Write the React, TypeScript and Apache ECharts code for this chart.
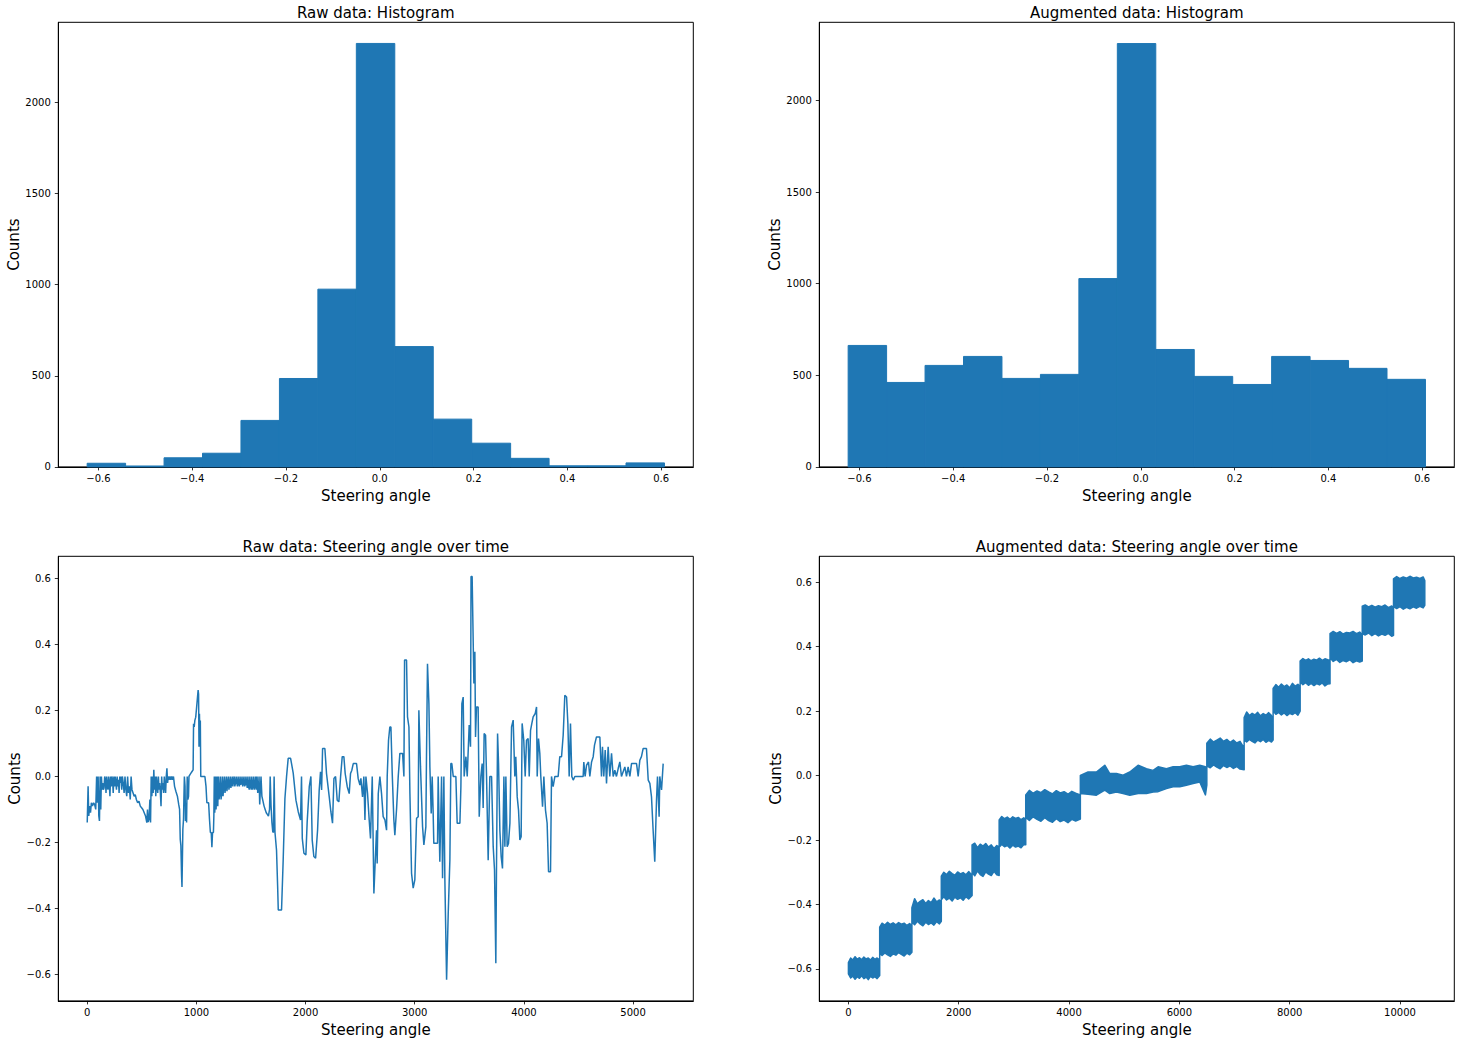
import React, { useEffect, useRef } from 'react';
import * as echarts from 'echarts';

const BLUE = '#1f77b4';
const FONT = 'DejaVu Sans';

// ---- Histogram data ----
const binEdges = [-0.624, -0.542, -0.46, -0.378, -0.296, -0.214, -0.132, -0.05, 0.032, 0.114, 0.196, 0.279, 0.361, 0.443, 0.525, 0.607];
const rawCounts = [20, 5, 50, 75, 255, 485, 975, 2323, 660, 262, 130, 47, 6, 6, 22];
const augCounts = [663, 461, 554, 603, 483, 505, 1028, 2311, 641, 494, 450, 603, 581, 538, 478];

// ---- Tick labels ----
const angleTicks = [-0.6, -0.4, -0.2, 0, 0.2, 0.4, 0.6];
const countTicks = [0, 500, 1000, 1500, 2000];
const rawTimeTicks = [0, 1000, 2000, 3000, 4000, 5000];
const augTimeTicks = [0, 2000, 4000, 6000, 8000, 10000];

// ---- Raw steering angle over time: [sample index, angle] ----
const rawPoints = [
  [0,-0.14],[8,-0.03],[14,-0.12],[22,-0.09],[30,-0.11],[38,-0.08],[48,-0.09],[58,-0.08],[68,-0.085],[78,-0.1],[86,0],[92,-0.08],[100,0],[106,-0.12],[112,-0.135],[118,0],[124,-0.1],[130,0],[136,-0.04],[142,-0.02],[148,-0.04],[154,-0.035],[160,0],[166,-0.01],[172,-0.05],[178,0],[184,-0.03],[190,-0.04],[196,0],[202,-0.02],[208,-0.06],[214,0],[220,-0.03],[226,0],[232,-0.01],[238,-0.05],[244,0],[250,-0.03],[256,0],[262,-0.02],[268,-0.04],[274,0],[280,-0.03],[286,-0.01],[292,-0.05],[298,0],[304,-0.02],[310,0],[316,-0.04],[322,0],[330,-0.02],[338,-0.05],[346,0],[354,-0.04],[362,-0.06],[370,0],[378,-0.05],[386,-0.03],[394,-0.07],[402,0],[410,-0.04],[420,-0.05],[430,-0.06],[440,-0.055],[450,-0.07],[462,-0.08],[474,-0.075],[486,-0.09],[498,-0.095],[510,-0.1],[522,-0.11],[534,-0.12],[546,-0.14],[552,-0.1],[558,-0.138],[566,-0.13],[574,-0.07],[580,-0.14],[586,0],[592,-0.06],[598,0],[604,-0.05],[610,0.02],[616,-0.04],[622,0],[628,-0.06],[634,0],[640,-0.03],[646,-0.05],[652,0],[658,-0.04],[664,-0.02],[670,-0.05],[676,-0.09],[682,0],[688,-0.04],[694,-0.02],[700,-0.05],[706,0],[712,-0.03],[718,-0.05],[724,0],[730,0.025],[736,-0.02],[742,0],[750,-0.01],[758,0],[766,-0.01],[774,0],[782,-0.01],[790,0],[800,-0.03],[812,-0.045],[826,-0.06],[838,-0.085],[846,-0.1],[852,-0.19],[858,-0.21],[864,-0.3],[868,-0.335],[872,-0.25],[876,-0.16],[882,-0.13],[886,-0.06],[890,0],[896,-0.03],[900,-0.135],[906,-0.08],[910,-0.14],[916,0],[922,-0.07],[928,-0.06],[932,0],[940,0.005],[950,0.01],[960,0.015],[970,0.02],[974,0.16],[980,0.15],[986,0.17],[994,0.18],[1002,0.21],[1010,0.24],[1016,0.262],[1020,0.25],[1024,0.09],[1028,0.19],[1032,0.12],[1036,0.17],[1040,0],[1078,0],[1088,-0.03],[1096,-0.08],[1112,-0.08],[1120,-0.13],[1128,-0.17],[1136,-0.17],[1142,-0.215],[1148,-0.17],[1156,-0.17],[1160,-0.12],[1164,0],[1168,-0.11],[1172,-0.08],[1176,0],[1180,-0.1],[1186,-0.06],[1190,0],[1196,-0.09],[1202,0],[1208,-0.07],[1214,-0.05],[1220,0],[1226,-0.07],[1232,-0.05],[1238,0],[1244,-0.06],[1250,-0.03],[1256,0],[1262,-0.05],[1268,-0.03],[1274,0],[1280,-0.045],[1286,-0.02],[1292,0],[1298,-0.04],[1304,-0.025],[1310,0],[1316,-0.035],[1322,-0.02],[1328,0],[1334,-0.03],[1340,-0.01],[1346,0],[1352,-0.03],[1358,-0.02],[1364,0],[1370,-0.02],[1376,-0.03],[1382,0],[1388,-0.02],[1394,-0.03],[1400,0],[1406,-0.025],[1412,-0.02],[1418,0],[1424,-0.03],[1430,-0.02],[1436,0],[1442,-0.03],[1448,-0.025],[1454,0],[1460,-0.02],[1466,-0.035],[1472,0],[1478,-0.03],[1484,-0.04],[1490,0],[1496,-0.03],[1502,-0.04],[1508,0],[1514,-0.04],[1520,-0.03],[1526,0],[1532,-0.04],[1538,-0.03],[1544,0],[1550,-0.04],[1556,0],[1562,-0.05],[1568,-0.04],[1574,0],[1580,-0.085],[1586,-0.04],[1592,0],[1600,-0.06],[1610,-0.075],[1620,-0.09],[1630,-0.1],[1640,-0.11],[1650,-0.115],[1660,-0.12],[1670,-0.1],[1676,0],[1684,-0.09],[1692,-0.14],[1700,-0.168],[1706,-0.17],[1712,0],[1720,-0.17],[1734,-0.223],[1744,-0.33],[1750,-0.405],[1780,-0.405],
  [1795,-0.254],[1811,-0.067],[1826,0],[1841,0.055],[1863,0.055],[1887,0.01],[1912,-0.072],[1933,-0.107],[1954,-0.132],[1963,0],[1970,-0.188],[1985,-0.233],[2003,-0.238],[2015,-0.137],[2034,-0.031],[2049,0],[2061,-0.193],[2076,-0.243],[2092,-0.248],[2110,-0.163],[2125,-0.041],[2137,0.014],[2147,-0.041],[2156,0.085],[2177,0.085],[2192,0.009],[2217,-0.062],[2232,-0.107],[2247,-0.142],[2260,-0.006],[2275,0],[2290,-0.072],[2305,-0.077],[2321,0],[2336,0.06],[2351,0.06],[2363,0.009],[2382,-0.031],[2400,-0.052],[2412,0.009],[2424,0.019],[2437,0.039],[2467,0.039],[2482,-0.006],[2498,-0.026],[2507,-0.006],[2522,-0.062],[2534,0],[2544,-0.132],[2553,0],[2568,-0.052],[2583,-0.132],[2595,-0.188],[2611,0],[2626,-0.355],[2638,-0.259],[2650,-0.163],[2656,-0.264],[2666,-0.052],[2681,0],[2696,-0.052],[2711,-0.122],[2727,-0.132],[2742,-0.163],[2748,0],[2760,0.11],[2772,0.15],[2782,0.15],[2794,0.009],[2809,-0.132],[2818,-0.178],[2834,-0.097],[2849,0],[2864,0.07],[2889,0.07],[2901,0],[2907,0.353],[2925,0.353],[2934,0.181],[2947,0.15],[2956,-0.052],[2971,-0.294],[2986,-0.339],[3001,-0.314],[3017,-0.127],[3032,-0.122],[3038,0.201],[3053,0.029],[3072,-0.153],[3084,-0.208],[3102,-0.153],[3108,0.065],[3117,0.342],[3130,0.221],[3139,0.029],[3151,-0.112],[3160,0],[3169,-0.112],[3175,-0.203],[3209,-0.203],[3215,0],[3230,-0.259],[3246,0],[3255,-0.309],[3267,0],[3276,-0.309],[3292,-0.617],[3307,-0.415],[3322,-0.254],[3331,0.039],[3340,0.039],[3353,0],[3377,0],[3389,-0.142],[3414,-0.142],[3423,-0.031],[3432,0.221],[3444,0.241],[3453,0],[3469,0.06],[3481,0],[3499,0.156],[3511,0.09],[3516,0.607],[3526,0.607],[3542,0.282],[3551,0.378],[3557,0.12],[3566,0.211],[3581,0.211],[3591,-0.122],[3606,0],[3618,0.039],[3627,-0.096],[3636,0.13],[3649,0.125],[3658,0],[3673,-0.254],[3688,0],[3704,0],[3719,-0.213],[3731,-0.284],[3743,-0.567],[3749,-0.284],[3759,0.13],[3768,0.039],[3780,-0.163],[3792,-0.243],[3804,-0.279],[3817,0],[3826,-0.213],[3835,0],[3847,-0.213],[3859,-0.203],[3872,-0.142],[3887,0.15],[3902,0.171],[3917,0],[3926,0.06],[3939,-0.062],[3951,-0.102],[3963,-0.193],[3975,-0.183],[3984,0.161],[3999,0.11],[4012,0],[4024,0.11],[4039,0.115],[4049,0],[4061,0.14],[4073,0.161],[4085,0.181],[4104,0.191],[4116,0.211],[4122,0],[4134,0.115],[4146,0.07],[4155,0],[4171,-0.092],[4183,0],[4198,-0.102],[4213,-0.142],[4226,-0.289],[4244,-0.289],[4253,0],[4268,-0.031],[4284,0],[4314,0],[4329,0.06],[4345,0.06],[4360,0.125],[4375,0.246],[4391,0.241],[4403,0.161],[4415,0],[4427,0.161],[4439,0],[4452,-0.011],[4467,0],[4543,0],[4549,0.044],[4561,0],[4574,0.034],[4592,0.044],[4604,0],[4620,0.044],[4635,0.06],[4647,0.095],[4665,0.12],[4696,0.12],[4711,0],[4720,0.09],[4732,0],[4745,0.08],[4757,-0.021],[4772,0.09],[4787,0],[4803,0.07],[4818,0],[4833,0.019],[4848,0],[4864,0.024],[4879,0.044],[4894,0],[4925,0.029],[4940,0],[4955,0.029],[4971,0],[4986,0.039],[5001,0.039],[5032,0.039],[5047,0],[5062,0.049],[5077,0.06],[5093,0.085],[5123,0.085],[5139,-0.011],[5154,-0.021],[5169,-0.062],[5184,-0.163],[5199,-0.259],[5215,-0.072],[5224,0],[5239,-0.122],[5245,0],[5261,-0.041],[5276,0.039]
];

// ---- Augmented steering angle over time: band envelope per sample index ----
const augX = [
  0, 40, 80, 120, 160, 200, 240, 280, 320, 360, 400, 440, 480, 520, 567,
  567, 610, 660, 710, 760, 810, 860, 910, 960, 1010, 1060, 1110, 1151,
  1151, 1200, 1250, 1300, 1350, 1400, 1450, 1500, 1550, 1600, 1650, 1684,
  1684, 1730, 1780, 1830, 1880, 1930, 1980, 2030, 2080, 2130, 2180, 2242,
  2242, 2290, 2340, 2390, 2440, 2490, 2540, 2590, 2640, 2690, 2733,
  2733, 2780, 2830, 2880, 2930, 2980, 3030, 3080, 3130, 3180, 3215,
  3215, 3280, 3350, 3420, 3490, 3560, 3630, 3700, 3770, 3840, 3910, 3980, 4050, 4120, 4205,
  4205, 4345, 4496, 4648, 4738, 4859, 4980, 5101, 5252, 5403, 5524, 5615, 5766, 5887, 6007, 6128, 6249, 6370, 6473, 6498,
  6498, 6560, 6620, 6680, 6740, 6800, 6860, 6920, 6980, 7040, 7100, 7175,
  7175, 7220, 7270, 7320, 7370, 7420, 7470, 7520, 7570, 7620, 7670, 7700,
  7700, 7750, 7800, 7850, 7900, 7950, 8000, 8050, 8100, 8150, 8190,
  8190, 8240, 8290, 8340, 8390, 8440, 8490, 8540, 8590, 8640, 8690, 8732,
  8732, 8790, 8850, 8910, 8970, 9030, 9090, 9150, 9210, 9270, 9316,
  9316, 9370, 9430, 9490, 9550, 9610, 9670, 9730, 9790, 9850, 9883,
  9883, 9940, 10000, 10060, 10120, 10180, 10240, 10300, 10360, 10420, 10450
];
const augLow = [
  -0.615, -0.628, -0.622, -0.632, -0.624, -0.629, -0.621, -0.63, -0.625, -0.633, -0.623, -0.628, -0.624, -0.63, -0.62,
  -0.552, -0.558, -0.55, -0.556, -0.561, -0.553, -0.557, -0.549, -0.555, -0.56, -0.551, -0.556, -0.548,
  -0.455, -0.463, -0.452, -0.46, -0.466, -0.455, -0.462, -0.457, -0.464, -0.453, -0.46, -0.452,
  -0.385, -0.376, -0.386, -0.38, -0.389, -0.377, -0.384, -0.379, -0.387, -0.376, -0.383, -0.372,
  -0.3, -0.311, -0.296, -0.307, -0.313, -0.299, -0.306, -0.31, -0.297, -0.308, -0.31,
  -0.222, -0.214, -0.221, -0.217, -0.225, -0.216, -0.222, -0.219, -0.224, -0.214, -0.215,
  -0.13, -0.139, -0.128, -0.136, -0.142, -0.131, -0.14, -0.145, -0.134, -0.143, -0.138, -0.146, -0.136, -0.141, -0.135,
  -0.056, -0.058, -0.061, -0.045, -0.056, -0.051, -0.056, -0.061, -0.056, -0.056, -0.051, -0.05, -0.04, -0.035, -0.035, -0.03, -0.025, -0.02, -0.06, -0.03,
  0.03, 0.024, 0.033, 0.026, 0.021, 0.031, 0.025, 0.03, 0.022, 0.028, 0.02, 0.018,
  0.11, 0.104, 0.112, 0.106, 0.101, 0.11, 0.105, 0.112, 0.103, 0.109, 0.104, 0.11,
  0.2, 0.19, 0.196, 0.188, 0.194, 0.186, 0.193, 0.189, 0.195, 0.187, 0.2,
  0.29, 0.282, 0.288, 0.28, 0.286, 0.279, 0.285, 0.281, 0.287, 0.278, 0.284, 0.285,
  0.365, 0.354, 0.36, 0.351, 0.357, 0.353, 0.359, 0.35, 0.356, 0.352, 0.355,
  0.44, 0.436, 0.442, 0.434, 0.44, 0.433, 0.439, 0.435, 0.441, 0.432, 0.435,
  0.525, 0.518, 0.524, 0.516, 0.522, 0.517, 0.523, 0.519, 0.525, 0.52, 0.528
];
const augHigh = [
  -0.58, -0.566, -0.572, -0.562, -0.57, -0.565, -0.571, -0.563, -0.569, -0.566, -0.572, -0.564, -0.57, -0.566, -0.572,
  -0.47, -0.458, -0.464, -0.455, -0.462, -0.457, -0.463, -0.456, -0.461, -0.458, -0.465, -0.459, -0.466,
  -0.41, -0.382, -0.398, -0.39, -0.385, -0.397, -0.388, -0.394, -0.38, -0.392, -0.386, -0.395,
  -0.312, -0.3, -0.307, -0.297, -0.304, -0.309, -0.299, -0.305, -0.301, -0.308, -0.298, -0.31,
  -0.215, -0.21, -0.224, -0.213, -0.219, -0.211, -0.222, -0.215, -0.226, -0.217, -0.222,
  -0.138, -0.127, -0.134, -0.129, -0.136, -0.128, -0.133, -0.13, -0.137, -0.131, -0.14,
  -0.06, -0.046, -0.055, -0.048, -0.053, -0.044, -0.051, -0.057, -0.047, -0.054, -0.05, -0.058, -0.049, -0.055, -0.06,
  0.0, 0.011, 0.011, 0.032, 0.006, 0.006, 0.001, 0.011, 0.032, 0.021, 0.016, 0.027, 0.021, 0.027, 0.027, 0.032, 0.027, 0.032, 0.027, 0.02,
  0.1, 0.113, 0.104, 0.11, 0.116, 0.106, 0.112, 0.103, 0.11, 0.101, 0.106, 0.085,
  0.18, 0.197, 0.186, 0.193, 0.188, 0.196, 0.185, 0.192, 0.187, 0.195, 0.186, 0.16,
  0.27, 0.282, 0.274, 0.284, 0.276, 0.281, 0.272, 0.286, 0.277, 0.283, 0.275,
  0.355, 0.363, 0.357, 0.362, 0.356, 0.361, 0.358, 0.364, 0.357, 0.362, 0.359, 0.358,
  0.44, 0.447, 0.441, 0.446, 0.439, 0.444, 0.442, 0.447, 0.44, 0.445, 0.435,
  0.525, 0.529, 0.523, 0.528, 0.522, 0.527, 0.524, 0.529, 0.521, 0.526, 0.52,
  0.61, 0.617, 0.611, 0.616, 0.612, 0.618, 0.613, 0.615, 0.611, 0.616, 0.605
];

// ---- Layout (px) ----
const COL_LEFT = [58.3, 819.3];
const COL_WIDTH = 635;
const ROW_TOP = [22.3, 556.3];
const ROW_HEIGHT = 444.6;

const fmtAngle = (v: number) => (v < -1e-9 ? '\u2212' : '') + Math.abs(v).toFixed(1);
const fmtInt = (v: number) => String(Math.round(v));

function makeAxis(gridIndex: number, min: number, max: number, ticks: number[], fmt: (v: number) => string, name: string, isY: boolean) {
  return {
    type: 'value',
    gridIndex,
    min,
    max,
    position: isY ? 'left' : 'bottom',
    name,
    nameLocation: 'middle',
    nameGap: isY ? 35 : 21.5,
    nameRotate: isY ? 90 : 0,
    nameTextStyle: { fontFamily: FONT, fontSize: 15, color: '#000' },
    axisLine: { show: true, onZero: false, lineStyle: { color: '#000', width: 1 } },
    axisTick: { show: true, inside: false, length: 3.5, lineStyle: { color: '#000', width: 0.8 }, customValues: ticks },
    axisLabel: { show: true, customValues: ticks, formatter: fmt, margin: isY ? 7.5 : 7, fontFamily: FONT, fontSize: 10, color: '#000' },
    splitLine: { show: false },
    splitArea: { show: false },
  };
}

function renderBar(params: any, api: any) {
  const p0 = api.coord([api.value(0), api.value(2)]);
  const p1 = api.coord([api.value(1), 0]);
  return {
    type: 'rect',
    shape: { x: p0[0], y: p0[1], width: p1[0] - p0[0], height: p1[1] - p0[1] },
    style: { fill: BLUE, stroke: BLUE, lineWidth: 1 },
  };
}

function renderBands(params: any, api: any) {
  if (params.dataIndex !== 0) return null;
  const upper = augX.map((x, i) => api.coord([x, augHigh[i]]));
  const lower = augX.map((x, i) => api.coord([x, augLow[i]])).reverse();
  return {
    type: 'polygon',
    shape: { points: upper.concat(lower) },
    style: { fill: BLUE, stroke: BLUE, lineWidth: 1.5, lineJoin: 'round' },
  };
}

function buildOption() {
  const histData = (counts: number[]) => counts.map((c, i) => [binEdges[i], binEdges[i + 1], c]);
  const grids = [
    [COL_LEFT[0], ROW_TOP[0]],
    [COL_LEFT[1], ROW_TOP[0]],
    [COL_LEFT[0], ROW_TOP[1]],
    [COL_LEFT[1], ROW_TOP[1]],
  ].map(([left, top]) => ({
    left, top, width: COL_WIDTH, height: ROW_HEIGHT,
    show: true, borderColor: '#000', borderWidth: 1, backgroundColor: 'transparent',
    containLabel: false, outerBoundsMode: 'none',
  }));
  const titleStyle = { fontFamily: FONT, fontSize: 15, fontWeight: 'normal', color: '#000' };
  const cx = (i: number) => COL_LEFT[i] + COL_WIDTH / 2;
  return {
    animation: false,
    backgroundColor: '#fff',
    textStyle: { fontFamily: FONT },
    title: [
      { text: 'Raw data: Histogram', left: cx(0), top: 5.5, textAlign: 'center', padding: 0, textStyle: titleStyle },
      { text: 'Augmented data: Histogram', left: cx(1), top: 5.5, textAlign: 'center', padding: 0, textStyle: titleStyle },
      { text: 'Raw data: Steering angle over time', left: cx(0), top: 539.5, textAlign: 'center', padding: 0, textStyle: titleStyle },
      { text: 'Augmented data: Steering angle over time', left: cx(1), top: 539.5, textAlign: 'center', padding: 0, textStyle: titleStyle },
    ],
    grid: grids,
    xAxis: [
      makeAxis(0, -0.6855, 0.6685, angleTicks, fmtAngle, 'Steering angle', false),
      makeAxis(1, -0.6855, 0.6685, angleTicks, fmtAngle, 'Steering angle', false),
      makeAxis(2, -265, 5552, rawTimeTicks, fmtInt, 'Steering angle', false),
      makeAxis(3, -528, 10985, augTimeTicks, fmtInt, 'Steering angle', false),
    ],
    yAxis: [
      makeAxis(0, 0, 2439, countTicks, fmtInt, 'Counts', true),
      makeAxis(1, 0, 2427, countTicks, fmtInt, 'Counts', true),
      makeAxis(2, -0.681, 0.668, angleTicks, fmtAngle, 'Counts', true),
      makeAxis(3, -0.699, 0.68, angleTicks, fmtAngle, 'Counts', true),
    ],
    series: [
      {
        type: 'custom', name: 'Raw histogram', xAxisIndex: 0, yAxisIndex: 0,
        renderItem: renderBar, data: histData(rawCounts), encode: { x: [0, 1], y: 2 }, silent: true,
      },
      {
        type: 'custom', name: 'Augmented histogram', xAxisIndex: 1, yAxisIndex: 1,
        renderItem: renderBar, data: histData(augCounts), encode: { x: [0, 1], y: 2 }, silent: true,
      },
      {
        type: 'line', name: 'Raw steering', xAxisIndex: 2, yAxisIndex: 2, data: rawPoints,
        showSymbol: false, symbol: 'none', lineStyle: { color: BLUE, width: 1.5 }, itemStyle: { color: BLUE },
        silent: true, clip: true,
      },
      {
        type: 'custom', name: 'Augmented steering', xAxisIndex: 3, yAxisIndex: 3,
        renderItem: renderBands, data: augX.map((x, i) => [x, augLow[i], augHigh[i]]), encode: { x: 0, y: [1, 2] },
        silent: true, clip: true,
      },
    ],
  };
}

export default function App() {
  const ref = useRef<HTMLDivElement>(null);
  useEffect(() => {
    if (!ref.current) return;
    const chart = echarts.init(ref.current, null, { renderer: 'svg' });
    chart.setOption(buildOption() as any);
    return () => chart.dispose();
  }, []);
  return <div ref={ref} style={{ position: 'absolute', left: 0, top: 0, width: 1464, height: 1044 }} />;
}
